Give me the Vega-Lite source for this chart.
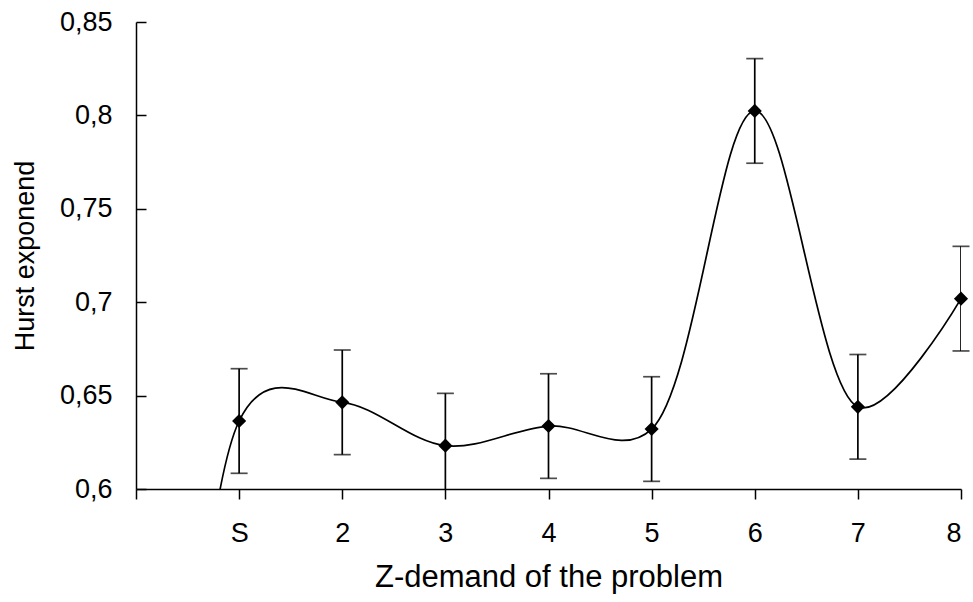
{
  "$schema": "https://vega.github.io/schema/vega-lite/v6.json",
  "width": 825,
  "height": 467,
  "padding": {"left": 136, "top": 22, "right": 12, "bottom": 113},
  "autosize": {"type": "none"},
  "background": "white",
  "config": {
    "view": {"stroke": null},
    "font": "Liberation Sans",
    "axis": {"grid": false, "domainColor": "black", "tickColor": "black", "labelColor": "black", "titleColor": "black", "domainWidth": 1.5, "tickWidth": 1.5, "labelFont": "Liberation Sans", "titleFont": "Liberation Sans", "titleFontWeight": "normal"}
  },
  "data": {
    "values": [
      {"x": 0, "h": 0.0, "err": null},
      {"x": 1, "h": 0.6364, "err": 0.028},
      {"x": 2, "h": 0.6464, "err": 0.028},
      {"x": 3, "h": 0.6232, "err": 0.028},
      {"x": 4, "h": 0.6337, "err": 0.028},
      {"x": 5, "h": 0.6321, "err": 0.028},
      {"x": 6, "h": 0.8024, "err": 0.028},
      {"x": 7, "h": 0.644, "err": 0.028},
      {"x": 8, "h": 0.7019, "err": 0.028}
    ]
  },
  "encoding": {
    "x": {
      "field": "x", "type": "quantitative",
      "scale": {"domain": [0, 8], "nice": false, "zero": false},
      "axis": {
        "title": "Z-demand of the problem",
        "values": [0, 1, 2, 3, 4, 5, 6, 7, 8],
        "labelExpr": "datum.value == 0 ? '' : datum.value == 1 ? 'S' : datum.label",
        "tickSize": 10,
        "labelPadding": 21,
        "labelFontSize": 27,
        "titleFontSize": 31,
        "titlePadding": 16
      }
    }
  },
  "layer": [
    {
      "mark": {"type": "line", "interpolate": "catmull-rom", "tension": 0.33, "color": "black", "strokeWidth": 1.7, "clip": true},
      "encoding": {
        "y": {
          "field": "h", "type": "quantitative",
          "scale": {"domain": [0.6, 0.85], "nice": false, "zero": false},
          "axis": {
            "title": "Hurst exponend",
            "values": [0.6, 0.65, 0.7, 0.75, 0.8, 0.85],
            "format": ".2~f",
            "labelExpr": "replace(datum.label, '.', ',')",
            "tickSize": -10,
            "labelPadding": 34,
            "labelFontSize": 27,
            "titleFontSize": 27,
            "titlePadding": 20
          }
        }
      }
    },
    {
      "transform": [
        {"filter": "datum.err != null"},
        {"calculate": "datum.h - datum.err", "as": "lo"},
        {"calculate": "datum.h + datum.err", "as": "hi"}
      ],
      "layer": [
        {
          "mark": {"type": "rule", "color": "black", "strokeWidth": 1.7, "clip": true},
          "encoding": {"y": {"field": "lo", "type": "quantitative"}, "y2": {"field": "hi"}}
        },
        {
          "transform": [{"filter": "datum.lo >= 0.6"}],
          "mark": {"type": "tick", "orient": "horizontal", "color": "black", "thickness": 1.7, "size": 17},
          "encoding": {"y": {"field": "lo", "type": "quantitative"}}
        },
        {
          "mark": {"type": "tick", "orient": "horizontal", "color": "black", "thickness": 1.7, "size": 17},
          "encoding": {"y": {"field": "hi", "type": "quantitative"}}
        },
        {
          "mark": {"type": "point", "shape": "diamond", "filled": true, "color": "black", "size": 200, "opacity": 1},
          "encoding": {"y": {"field": "h", "type": "quantitative"}}
        }
      ]
    }
  ]
}
